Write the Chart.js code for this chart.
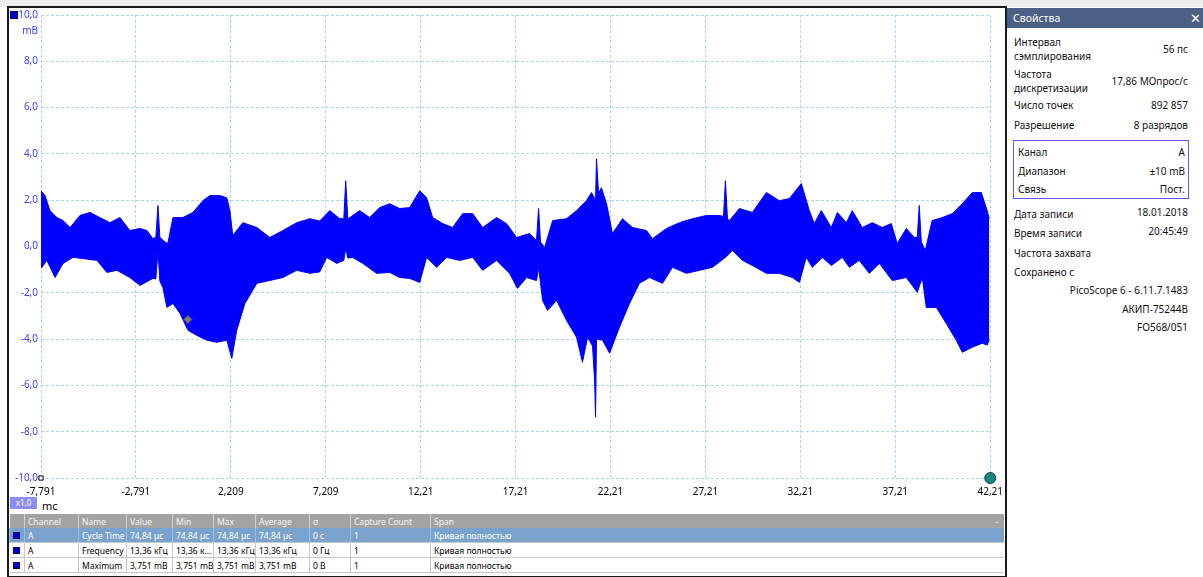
<!DOCTYPE html>
<html lang="ru">
<head>
<meta charset="UTF-8">
<title>PicoScope - канал A</title>
<script src="https://cdn.jsdelivr.net/npm/chart.js@4.4.1/dist/chart.umd.min.js"></script>
<style>
  body { margin: 0; width: 1203px; height: 577px; position: relative; background: #ffffff; overflow: hidden;
         font-family: "Noto Sans", "DejaVu Sans", sans-serif; }
  #topStrip { position: absolute; left: 0; top: 0; width: 1203px; height: 7px; background: #efefef; }
  #scope { position: absolute; left: 7px; top: 6px; width: 996px; height: 568px; border: 2px solid #1a1a1a; background: #fff; }
  #chartBox { position: absolute; left: 9px; top: 6px; width: 1002px; height: 490px; }
  #chMark { position: absolute; left: 10px; top: 11px; width: 6px; height: 6px; background: #0000c8; border: 1px solid #000080; }
  #unit { position: absolute; left: 18px; top: 23px; width: 20px; text-align: right; font-size: 10px; color: #3c3cff; }
  #zoomTag { position: absolute; left: 10px; top: 497px; width: 27px; height: 12px; background: #8c8cf5; color: #fff;
             font-size: 8px; line-height: 12px; text-align: center; }
  #xUnit { position: absolute; left: 42px; top: 498px; font-size: 11px; color: #000; }
  #meas { position: absolute; left: 9px; top: 514px; width: 995px; border-collapse: collapse; table-layout: fixed; font-size: 8.5px; }
  #meas td, #meas th { height: 14px; padding: 0 0 0 3px; white-space: nowrap; overflow: hidden; text-align: left; font-weight: normal;
                       border-left: 1px solid #c8c8c8; border-bottom: 1px solid #c8c8c8; }
  #meas th { background: #a3a3a3; color: #f4f4f4; border-left: 1px solid #d0d0d0; border-bottom: none; }
  #meas tr.sel td { background: #79a3cc; color: #fff; border-left: 1px solid #9dbde0; }
  #meas td.ic, #meas th.ic { border-left: none; padding: 0; }
  .sq { display: inline-block; width: 5px; height: 5px; background: #0000d0; border: 1px solid #00006a; margin-left: 3px; }
  #panel { position: absolute; left: 1007px; top: 8px; width: 196px; height: 569px; background: #fff; font-size: 10px; color: #111; }
  #panelHead { height: 20px; background: #4c6085; color: #fff; font-size: 10.5px; line-height: 20px; padding-left: 6px; position: relative; }
  #panelHead span { position: absolute; right: 2px; top: 0; font-size: 13px; font-weight: bold; }
  .row { position: absolute; left: 7px; width: 174px; }
  .row .v { position: absolute; right: 0; top: 0; }
  #chanBox { position: absolute; left: 6px; top: 132px; width: 174px; height: 57px; border: 1px solid #5a5aff; }
</style>
</head>
<body>
<div id="topStrip"></div>
<div id="scope"></div>
<div id="chartBox"><canvas id="scopeChart"></canvas></div>
<div id="chMark"></div>
<div id="unit">mB</div>
<div id="zoomTag">x1,0</div>
<div id="xUnit">mc</div>

<table id="meas">
  <colgroup>
    <col style="width:15px"><col style="width:54px"><col style="width:48px"><col style="width:46px"><col style="width:41px">
    <col style="width:42px"><col style="width:54px"><col style="width:41px"><col style="width:80px"><col>
  </colgroup>
  <tr><th class="ic"></th><th>Channel</th><th>Name</th><th>Value</th><th>Min</th><th>Max</th><th>Average</th><th>σ</th><th>Capture Count</th><th>Span<span style="float:right;padding-right:6px">-</span></th></tr>
  <tr class="sel"><td class="ic"><span class="sq"></span></td><td>A</td><td>Cycle Time</td><td>74,84 µс</td><td>74,84 µс</td><td>74,84 µс</td><td>74,84 µс</td><td>0 с</td><td>1</td><td>Кривая полностью</td></tr>
  <tr><td class="ic"><span class="sq"></span></td><td>A</td><td>Frequency</td><td>13,36 кГц</td><td>13,36 к...</td><td>13,36 кГц</td><td>13,36 кГц</td><td>0 Гц</td><td>1</td><td>Кривая полностью</td></tr>
  <tr><td class="ic"><span class="sq"></span></td><td>A</td><td>Maximum</td><td>3,751 mB</td><td>3,751 mB</td><td>3,751 mB</td><td>3,751 mB</td><td>0 B</td><td>1</td><td>Кривая полностью</td></tr>
</table>

<div id="panel">
  <div id="panelHead">Свойства<span>✕</span></div>
  <div class="row" style="top:27px">Интервал<br>сэмплирования<span class="v" style="top:7px">56 пс</span></div>
  <div class="row" style="top:59px">Частота<br>дискретизации<span class="v" style="top:7px">17,86 МОпрос/с</span></div>
  <div class="row" style="top:90px">Число точек<span class="v">892 857</span></div>
  <div class="row" style="top:110px">Разрешение<span class="v">8 разрядов</span></div>
  <div id="chanBox"></div>
  <div class="row" style="top:137px;left:11px;width:167px">Канал<span class="v">A</span></div>
  <div class="row" style="top:156px;left:11px;width:167px">Диапазон<span class="v">±10 mB</span></div>
  <div class="row" style="top:174px;left:11px;width:167px">Связь<span class="v">Пост.</span></div>
  <div class="row" style="top:199px">Дата записи<span class="v" style="top:-2px">18.01.2018</span></div>
  <div class="row" style="top:218px">Время записи<span class="v" style="top:-2px">20:45:49</span></div>
  <div class="row" style="top:238px">Частота захвата</div>
  <div class="row" style="top:257px">Сохранено с</div>
  <div class="row" style="top:275px"><span class="v">PicoScope 6 - 6.11.7.1483</span></div>
  <div class="row" style="top:294px"><span class="v">АКИП-75244В</span></div>
  <div class="row" style="top:312px"><span class="v">FO568/051</span></div>
</div>

<script>
// time axis, ms
const xMin = -7.791;
const xMax = 42.209;
const xTicks = [-7.791, -2.791, 2.209, 7.209, 12.209, 17.209, 22.209, 27.209, 32.209, 37.209, 42.209];
const xTickLabels = ['-7,791', '-2,791', '2,209', '7,209', '12,21', '17,21', '22,21', '27,21', '32,21', '37,21', '42,21'];

// upper envelope of the signal band (mV)
const upperT = [-7.79, -7.58, -7.32, -6.95, -6.63, -6.26, -5.74, -5.21, -4.69, -4.16, -3.63, -3.11, -2.58, -2.21, -1.90, -1.74,
  -1.63, -1.53, -1.27, -1.11, -0.84, -0.32, 0.21, 0.74, 1.10, 1.63, 2.00, 2.16, 2.31, 2.84, 3.58, 4.26, 4.95, 5.68, 6.37, 6.89,
  7.42, 7.95, 8.16, 8.26, 8.37, 8.47, 9.00, 9.52, 10.05, 10.58, 11.10, 11.63, 12.16, 12.52, 12.84, 13.37, 13.89, 14.42, 14.95,
  15.47, 16.21, 16.73, 17.26, 17.95, 18.31, 18.42, 18.52, 18.74, 19.16, 19.89, 20.42, 20.94, 21.21, 21.42, 21.47, 21.58, 21.73,
  22.00, 22.31, 22.84, 23.37, 24.10, 24.42, 25.16, 25.84, 26.52, 27.26, 27.94, 28.16, 28.26, 28.37, 28.47, 29.00, 29.68, 30.42,
  31.10, 31.63, 32.26, 32.68, 32.94, 33.31, 33.84, 34.16, 34.63, 34.94, 35.47, 36.00, 36.52, 37.00, 37.31, 37.79, 38.21, 38.37,
  38.47, 38.58, 38.79, 39.15, 39.68, 40.21, 40.74, 41.26, 41.74, 42.05, 42.16];
const upperV = [2.41, 2.2, 1.55, 1.25, 1.12, 0.82, 1.34, 1.47, 1.25, 1.03, 1.25, 0.69, 0.78, 0.69, 0.34, 0.4,
  1.77, 0.4, 0.2, 0.13, 1.25, 1.25, 1.47, 1.98, 2.2, 2.2, 2.1, 1.55, 0.47, 1.03, 0.82, 0.39, 0.69, 1.03, 1.2, 1.1,
  1.55, 1.2, 1.2, 2.84, 1.2, 1.25, 1.55, 1.25, 1.68, 1.85, 1.64, 1.68, 2.41, 2.11, 1.25, 0.99, 0.82, 1.42, 1.42,
  0.82, 1.25, 0.99, 0.39, 0.56, 0.26, 1.64, 0.2, -0.04, 1.12, 1.2, 1.55, 1.98, 2.33, 2.0, 3.79, 2.3, 2.54,
  1.85, 0.56, 1.2, 0.82, 0.69, 0.34, 0.78, 1.03, 1.2, 1.34, 1.34, 1.3, 2.84, 1.2, 1.12, 1.64, 1.47, 2.33,
  1.98, 2.07, 2.72, 1.55, 0.99, 1.55, 0.82, 1.47, 1.03, 1.55, 0.82, 1.03, 0.82, 0.99, 0.13, 0.78, 0.39, 0.4,
  1.77, 0.2, -0.17, 1.12, 1.25, 1.42, 1.85, 2.33, 2.33, 1.55, 1.2];

// lower envelope of the signal band (mV)
const lowerT = [-7.79, -7.48, -7.05, -6.63, -6.11, -5.58, -4.84, -4.32, -3.79, -3.11, -2.58, -1.90, -1.74, -1.63, -1.53, -1.37,
  -1.16, -0.84, -0.47, -0.05, 0.42, 0.95, 1.47, 2.00, 2.26, 2.52, 2.95, 3.58, 4.26, 4.95, 5.68, 6.37, 6.89, 7.26, 7.79, 8.16,
  8.26, 8.37, 8.63, 9.16, 9.89, 10.58, 11.10, 11.63, 12.16, 12.52, 13.05, 13.58, 14.26, 14.95, 15.47, 16.21, 16.89, 17.31,
  17.79, 18.31, 18.42, 18.63, 18.89, 19.37, 19.89, 20.42, 20.73, 21.00, 21.26, 21.37, 21.42, 21.47, 21.79, 22.16, 22.68,
  23.21, 23.73, 24.26, 24.95, 25.47, 26.21, 26.89, 27.58, 28.26, 28.63, 29.16, 29.68, 30.42, 31.10, 31.79, 32.16, 32.52,
  32.84, 33.37, 33.84, 34.42, 34.79, 35.31, 35.84, 36.37, 37.05, 37.79, 38.37, 38.63, 38.84, 39.37, 39.89, 40.42, 40.74,
  41.26, 41.79, 42.05, 42.16];
const lowerV = [-0.95, -0.6, -1.34, -0.73, -0.47, -0.52, -0.6, -1.12, -1.03, -1.34, -1.68, -1.38, -1.4, -0.17, -1.5, -1.77,
  -2.63, -2.46, -2.89, -3.62, -3.84, -4.05, -4.14, -4.05, -4.83, -3.62, -2.46, -1.59, -1.47, -1.34, -1.03, -1.16, -1.1, -0.47, -0.73, -0.6,
  -0.09, -0.5, -0.47, -0.73, -1.16, -1.12, -1.34, -1.38, -1.55, -0.47, -0.9, -0.47, -0.6, -0.47, -1.03, -0.6, -1.16, -1.81,
  -1.34, -1.47, -0.9, -2.33, -2.76, -2.33, -3.19, -3.92, -5.0, -3.92, -4.3, -5.78, -7.37, -4.0, -4.05, -4.61, -3.49,
  -2.46, -1.59, -1.34, -1.59, -0.9, -1.16, -1.03, -0.9, -0.47, -0.17, -0.6, -0.82, -1.16, -1.16, -1.34, -1.55, -0.47,
  -0.9, -0.47, -0.82, -0.47, -0.9, -0.6, -1.16, -0.73, -1.47, -1.34, -1.98, -1.34, -2.63, -2.63, -3.32, -4.05, -4.57,
  -4.35, -4.18, -4.26, -4.0];

// markers: ruler handle on the trace, origin square, time-end marker
const rulerT = [-0.05], rulerV = [-3.15];
const originT = [-7.791], originV = [-10];
const endT = [42.209], endV = [-10];

const pts = (xs, ys) => xs.map((x, i) => ({ x: x, y: ys[i] }));
const blue = '#0000ff';
const tickFont = { family: 'Noto Sans', size: 10 };

const config = {
  type: 'line',
  data: {
    datasets: [
      { data: pts(rulerT, rulerV), showLine: false, pointStyle: 'rectRot', pointRadius: 4, backgroundColor: '#7a7a7a', borderColor: '#5a5a5a', borderWidth: 1, order: 0 },
      { data: pts(originT, originV), showLine: false, pointStyle: 'rect', pointRadius: 3, backgroundColor: '#ffffff', borderColor: '#000000', borderWidth: 1, order: 0, clip: false },
      { data: pts(endT, endV), showLine: false, pointStyle: 'circle', pointRadius: 5.5, backgroundColor: '#12867f', borderColor: '#0b4743', borderWidth: 1, order: 0, clip: false },
      { data: pts(upperT, upperV), borderColor: blue, backgroundColor: blue, borderWidth: 1, pointRadius: 0, tension: 0, fill: false, order: 2 },
      { data: pts(lowerT, lowerV), borderColor: blue, backgroundColor: blue, borderWidth: 1, pointRadius: 0, tension: 0, fill: '-1', order: 1 }
    ]
  },
  options: {
    responsive: true,
    maintainAspectRatio: false,
    animation: false,
    events: [],
    layout: { padding: { left: 0, top: 0, right: 12, bottom: 0 } },
    plugins: { legend: { display: false }, tooltip: { enabled: false } },
    scales: {
      x: {
        type: 'linear',
        min: xMin,
        max: xMax,
        afterBuildTicks: (scale) => { scale.ticks = xTicks.map(v => ({ value: v })); },
        afterFit: (scale) => { scale.height = 18; },
        ticks: {
          color: '#000000', font: tickFont, padding: 8, maxRotation: 0, autoSkip: false,
          callback: (v, i) => xTickLabels[i]
        },
        grid: { color: '#abd6e6', lineWidth: 1, drawTicks: false },
        border: { display: false, dash: [3, 2] }
      },
      y: {
        min: -10,
        max: 10,
        afterFit: (scale) => { scale.width = 32; },
        ticks: {
          stepSize: 2, color: '#3c3cff', font: tickFont, padding: 3,
          callback: (v) => v.toFixed(1).replace('.', ',')
        },
        grid: { color: '#abd6e6', lineWidth: 1, drawTicks: false },
        border: { display: false, dash: [3, 2] }
      }
    }
  }
};

new Chart(document.getElementById('scopeChart'), config);
</script>
</body>
</html>
